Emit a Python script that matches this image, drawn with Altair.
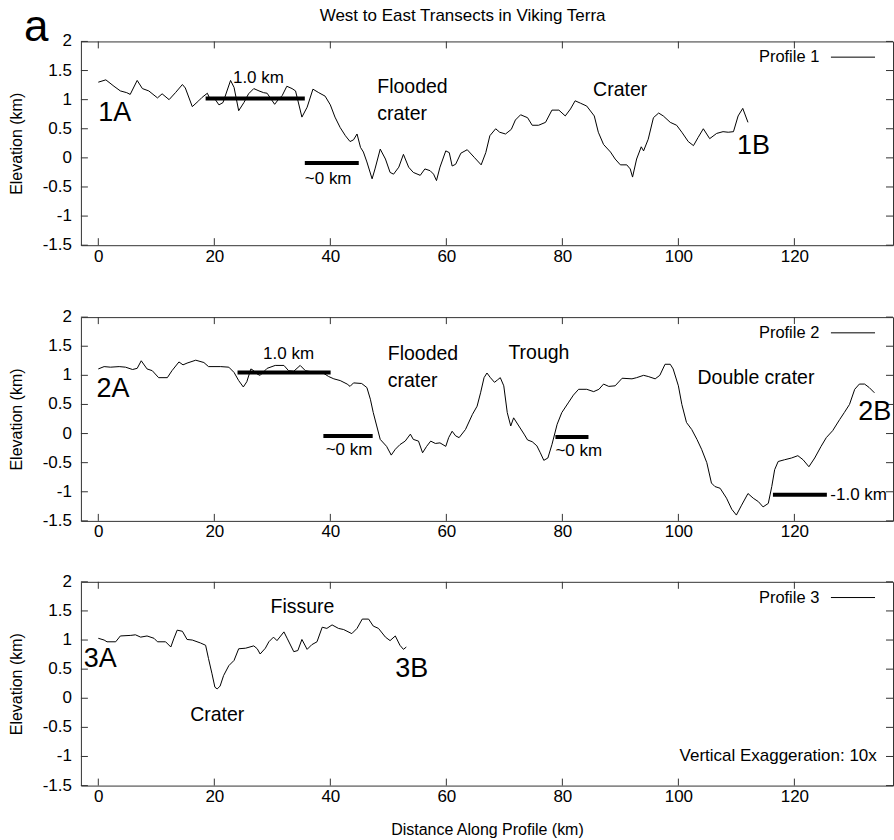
import altair as alt
import pandas as pd

# ---------------- data ----------------
p1_x = [0, 1.3, 2.7, 3.8, 4.9, 5.5, 6.7, 7.6, 8.7, 10.2,
        11.0, 12.2, 13.3, 14.5, 15.0, 16.2, 17.3, 17.9, 18.8, 19.3,
        19.9, 20.8, 21.5, 22.8, 23.4, 24.2, 25.1, 25.9, 26.8, 27.7,
        28.5, 29.1, 30.4, 31.1, 31.7, 32.5, 33.4, 34.0, 35.1, 36.0,
        37.0, 38.0, 39.1, 40.0, 40.8, 41.7, 42.6, 43.4, 44.0, 44.6,
        45.2, 45.7, 46.3, 47.2, 47.7, 48.6, 49.5, 50.3, 50.9, 51.8,
        52.6, 53.5, 54.3, 55.5, 56.3, 57.2, 57.8, 58.3, 58.9, 59.9,
        60.5, 61.0, 61.6, 62.5, 63.6, 64.8, 66.0, 66.8, 67.5, 68.5,
        69.2, 70.2, 71.2, 71.9, 72.8, 74.0, 74.8, 75.9, 77.1, 78.2,
        79.4, 80.5, 81.4, 82.2, 83.1, 84.2, 85.5, 86.2, 87.1, 88.3,
        89.1, 90.0, 91.1, 91.7, 92.1, 92.8, 93.6, 94.0, 94.8, 95.7,
        96.6, 97.4, 98.6, 99.7, 100.6, 101.7, 102.6, 103.4, 104.3, 105.4,
        106.6, 107.7, 108.6, 109.5, 110.3, 111.1, 112.0]
p1_y = [1.30, 1.34, 1.23, 1.15, 1.12, 1.09, 1.33, 1.19, 1.15, 1.03,
        1.10, 1.00, 1.12, 1.26, 1.20, 0.88, 0.98, 1.04, 1.11, 1.00,
        1.04, 0.91, 0.95, 1.33, 1.21, 0.81, 0.95, 1.10, 1.19, 1.15,
        1.12, 1.11, 0.92, 1.01, 1.07, 1.23, 1.19, 1.15, 0.70, 0.87,
        1.18, 1.12, 1.06, 0.91, 0.70, 0.52, 0.38, 0.28, 0.31, 0.41,
        0.18, 0.10, -0.07, -0.36, -0.19, 0.15, -0.02, -0.25, -0.28, -0.16,
        0.06, -0.16, -0.25, -0.30, -0.19, -0.22, -0.28, -0.39, -0.16, 0.12,
        0.09, -0.14, -0.11, 0.08, 0.14, 0.01, -0.12, 0.09, 0.38, 0.50,
        0.44, 0.41, 0.49, 0.65, 0.74, 0.69, 0.56, 0.56, 0.61, 0.82,
        0.82, 0.72, 0.84, 0.98, 0.94, 0.89, 0.72, 0.44, 0.23, 0.10,
        -0.02, -0.12, -0.12, -0.19, -0.33, -0.02, 0.19, 0.12, 0.32, 0.69,
        0.77, 0.72, 0.61, 0.56, 0.44, 0.28, 0.21, 0.35, 0.50, 0.33,
        0.42, 0.45, 0.44, 0.45, 0.72, 0.85, 0.61]

p2_x = [0, 1.0, 2.1, 3.6, 4.7, 5.9, 6.7, 7.4, 8.4, 9.3,
        10.4, 11.9, 12.7, 13.9, 14.6, 15.3, 16.8, 18.2, 19.0, 21.1,
        22.5, 23.4, 24.2, 25.0, 25.6, 26.3, 26.8, 27.4, 27.9, 29.1,
        30.5, 32.0, 32.8, 33.7, 34.8, 35.7, 36.8, 38.6, 39.7, 40.6,
        41.7, 42.9, 43.4, 44.0, 45.4, 46.3, 46.9, 47.4, 48.0, 48.6,
        49.7, 50.5, 51.2, 52.0, 52.9, 53.8, 54.3, 55.2, 55.9, 56.6,
        57.3, 58.1, 58.9, 59.9, 60.4, 61.0, 61.6, 62.2, 63.3, 64.5,
        65.3, 65.9, 66.5, 67.0, 67.6, 68.3, 68.8, 69.3, 69.9, 70.5,
        71.1, 71.6, 72.5, 73.4, 74.0, 74.8, 75.6, 76.2, 76.8, 77.5,
        78.2, 79.1, 79.9, 81.1, 81.9, 82.8, 84.2, 85.4, 86.3, 87.1,
        88.0, 89.1, 90.3, 92.0, 92.8, 94.0, 94.8, 96.0, 96.8, 97.7,
        98.6, 99.1, 100.0, 100.6, 101.4, 102.3, 103.2, 104.0, 104.9, 105.7,
        106.3, 107.2, 108.3, 109.2, 110.0, 110.9, 112.0, 112.9, 113.8, 114.6,
        115.5, 116.1, 116.6, 117.2, 118.3, 119.5, 120.6, 121.5, 122.5, 123.5,
        124.6, 125.5, 126.6, 127.8, 128.6, 129.5, 130.4, 131.2, 132.1, 132.9,
        133.8]
p2_y = [1.11, 1.15, 1.14, 1.15, 1.14, 1.10, 1.12, 1.25, 1.11, 1.08,
        0.96, 0.96, 1.08, 1.23, 1.18, 1.21, 1.26, 1.22, 1.15, 1.15,
        1.14, 1.05, 0.91, 0.80, 0.89, 1.11, 1.08, 1.02, 1.00, 1.12,
        1.17, 1.17, 1.08, 1.07, 1.17, 1.08, 1.06, 1.05, 0.98, 0.94,
        0.91, 0.85, 0.81, 0.87, 0.86, 0.79, 0.59, 0.36, 0.13, -0.10,
        -0.22, -0.37, -0.27, -0.19, -0.13, -0.01, -0.10, -0.13, -0.33, -0.22,
        -0.13, -0.17, -0.16, -0.22, -0.07, 0.04, -0.04, -0.07, 0.07, 0.33,
        0.47, 0.70, 0.96, 1.04, 0.96, 0.88, 0.92, 0.96, 0.82, 0.36,
        0.13, 0.27, 0.13, -0.01, -0.11, -0.14, -0.21, -0.33, -0.46, -0.42,
        -0.19, 0.16, 0.36, 0.54, 0.66, 0.76, 0.76, 0.72, 0.76, 0.85,
        0.81, 0.82, 0.95, 0.94, 0.96, 1.00, 0.98, 0.94, 1.00, 1.19,
        1.19, 1.11, 0.82, 0.50, 0.19, 0.07, -0.10, -0.27, -0.50, -0.85,
        -0.91, -0.94, -1.11, -1.30, -1.40, -1.23, -1.03, -1.11, -1.17, -1.26,
        -1.20, -0.91, -0.62, -0.48, -0.45, -0.42, -0.38, -0.45, -0.57, -0.42,
        -0.22, -0.07, 0.05, 0.24, 0.36, 0.50, 0.76, 0.85, 0.85, 0.79,
        0.70]

p3_x = [0, 1.0, 1.5, 3.0, 3.8, 5.6, 6.4, 7.3, 8.4, 9.6,
        10.2, 11.6, 12.5, 13.0, 13.6, 14.5, 15.3, 16.2, 17.6, 18.5,
        19.0, 19.6, 20.1, 20.5, 21.0, 21.6, 22.5, 23.4, 24.2, 25.4,
        26.8, 27.4, 27.9, 28.8, 29.4, 30.2, 30.8, 32.0, 32.6, 33.7,
        34.4, 35.1, 36.0, 36.8, 37.7, 38.6, 39.4, 40.3, 41.4, 42.3,
        43.7, 44.6, 45.5, 46.6, 47.4, 48.3, 49.5, 50.3, 51.2, 52.0,
        52.6, 53.1]
p3_y = [1.03, 1.00, 0.97, 0.97, 1.07, 1.08, 1.09, 1.05, 1.07, 1.03,
        0.97, 0.97, 0.88, 1.02, 1.17, 1.15, 1.01, 1.00, 0.95, 0.91,
        0.68, 0.42, 0.19, 0.16, 0.21, 0.39, 0.56, 0.65, 0.85, 0.86,
        0.90, 0.85, 0.76, 0.86, 0.97, 1.05, 0.99, 1.14, 1.02, 0.80,
        0.82, 1.01, 0.84, 0.92, 0.97, 1.22, 1.20, 1.26, 1.20, 1.18,
        1.11, 1.20, 1.36, 1.36, 1.24, 1.20, 1.05, 0.99, 1.07, 0.91,
        0.84, 0.88]

x_ticks = [0, 20, 40, 60, 80, 100, 120]
y_ticks = [-1.5, -1, -0.5, 0, 0.5, 1, 1.5, 2]
y_tick_labels = ["-1.5", "-1", "-0.5", "0", "0.5", "1", "1.5", "2"]

# annotations: (x, y, text)
p1_big = [(0, 0.765, "1A"), (110.1, 0.20, "1B")]
p1_mid = [(48.1, 1.21, "Flooded"), (48.1, 0.75, "crater"), (85.3, 1.16, "Crater")]
p1_small_c = [(27.6, 1.38, "1.0 km")]
p1_small_l = [(35.6, -0.36, "~0 km")]
p1_bars = [(18.5, 35.6, 1.02), (35.6, 44.9, -0.09)]

p2_big = [(-0.3, 0.76, "2A"), (131.0, 0.37, "2B")]
p2_mid = [(49.9, 1.37, "Flooded"), (49.9, 0.90, "crater"), (70.7, 1.38, "Trough"),
          (103.3, 0.95, "Double crater")]
p2_small_c = [(32.8, 1.37, "1.0 km")]
p2_small_l = [(39.2, -0.29, "~0 km"), (78.8, -0.30, "~0 km"), (126.2, -1.05, "-1.0 km")]
p2_bars = [(24.0, 40.05, 1.05), (38.8, 47.3, -0.04), (78.8, 84.5, -0.06), (116.3, 125.6, -1.05)]

p3_big = [(-2.5, 0.68, "3A"), (51.2, 0.51, "3B")]
p3_mid_c = [(35.2, 1.57, "Fissure"), (20.5, -0.29, "Crater")]

FONT = "Liberation Sans"
FRAME = "#333333"
W = 813
H = 204
XDOM = [-3, 137]
YDOM = [-1.5, 2]
LEG_Y = 1.73
MID = 19.5
SMALL = 17


def xs():
    return alt.Scale(domain=XDOM, nice=False, zero=False)


def ys():
    return alt.Scale(domain=YDOM, nice=False, zero=False)


def text_layer(items, size, align="left", baseline="middle"):
    df = pd.DataFrame(items, columns=["x", "y", "t"])
    return alt.Chart(df).mark_text(
        align=align, baseline=baseline, fontSize=size, font=FONT, color="black"
    ).encode(
        x=alt.X("x:Q", scale=xs()),
        y=alt.Y("y:Q", scale=ys()),
        text="t:N",
    )


def bar_layer(items, width=4):
    df = pd.DataFrame(items, columns=["x1", "x2", "y"])
    return alt.Chart(df).mark_rule(color="black", strokeWidth=width).encode(
        x=alt.X("x1:Q", scale=xs()),
        x2="x2:Q",
        y=alt.Y("y:Q", scale=ys()),
    )


def panel(px, py, label, layers, xtitle=False):
    df = pd.DataFrame({"d": px, "e": py})
    xaxis = alt.Axis(values=x_ticks, labelPadding=3, labelOverlap=False,
                     title="Distance Along Profile (km)" if xtitle else None,
                     titlePadding=17)
    yaxis = alt.Axis(values=y_ticks, labels=False, title="Elevation (km)",
                     titleX=-64, titleY=H / 2, titleBaseline="middle")
    line = alt.Chart(df).mark_line(color="black", strokeWidth=1).encode(
        x=alt.X("d:Q", scale=xs(), axis=xaxis),
        y=alt.Y("e:Q", scale=ys(), axis=yaxis),
        order="d:Q",
    )
    xt = pd.DataFrame({"t": x_ticks})
    yt = pd.DataFrame({"t": y_ticks, "lab": y_tick_labels})
    tick_top = alt.Chart(xt).mark_rule(color=FRAME, strokeWidth=1).encode(
        x=alt.X("t:Q", scale=xs()), y=alt.value(0), y2=alt.value(7))
    tick_bot = alt.Chart(xt).mark_rule(color=FRAME, strokeWidth=1).encode(
        x=alt.X("t:Q", scale=xs()), y=alt.value(H), y2=alt.value(H - 7))
    tick_left = alt.Chart(yt).mark_rule(color=FRAME, strokeWidth=1).encode(
        y=alt.Y("t:Q", scale=ys()), x=alt.value(0), x2=alt.value(7))
    tick_right = alt.Chart(yt).mark_rule(color=FRAME, strokeWidth=1).encode(
        y=alt.Y("t:Q", scale=ys()), x=alt.value(W), x2=alt.value(W - 7))
    ylabels = alt.Chart(yt).mark_text(
        align="right", baseline="middle", fontSize=17, font=FONT, color="black"
    ).encode(y=alt.Y("t:Q", scale=ys()), x=alt.value(-9), text="lab:N")
    leg_text = text_layer([(124.3, LEG_Y, label)], 16.5, align="right")
    leg_line = bar_layer([(126.3, 133.9, LEG_Y)], width=1)
    return alt.layer(line, tick_top, tick_bot, tick_left, tick_right, ylabels,
                     leg_text, leg_line, *layers).properties(width=W, height=H)


title_items = [(62.8, 2.343, "West to East Transects in Viking Terra")]
a_items = [(-12.8, 2.0, "a")]

c1 = panel(p1_x, p1_y, "Profile 1", [
    text_layer(p1_big, 27), text_layer(p1_mid, MID),
    text_layer(p1_small_c, SMALL, align="center"), text_layer(p1_small_l, SMALL),
    bar_layer(p1_bars),
    text_layer(title_items, 17, align="center", baseline="alphabetic"),
    text_layer(a_items, 44, baseline="alphabetic"),
])
c2 = panel(p2_x, p2_y, "Profile 2", [
    text_layer(p2_big, 27), text_layer(p2_mid, MID),
    text_layer(p2_small_c, SMALL, align="center"), text_layer(p2_small_l, SMALL),
    bar_layer(p2_bars),
])
c3 = panel(p3_x, p3_y, "Profile 3", [
    text_layer(p3_big, 27), text_layer(p3_mid_c, MID, align="center"),
    text_layer([(134.2, -1.0, "Vertical Exaggeration: 10x")], 17, align="right"),
], xtitle=True)

chart = alt.vconcat(
    c1,
    alt.vconcat(c2, c3, spacing=61, bounds="flush"),
    spacing=72, bounds="flush",
).properties(
    padding={"left": 8, "top": 5, "right": 0, "bottom": 0},
    background="white",
).configure_view(
    stroke=FRAME, strokeWidth=1
).configure_axis(
    labelFont=FONT, labelFontSize=17, labelColor="black",
    titleFont=FONT, titleFontSize=16, titleFontWeight="normal", titleColor="black",
    grid=False, domain=False, ticks=False, tickSize=0,
)

chart.save("out.html", embed_options={"renderer": "svg", "actions": False})
